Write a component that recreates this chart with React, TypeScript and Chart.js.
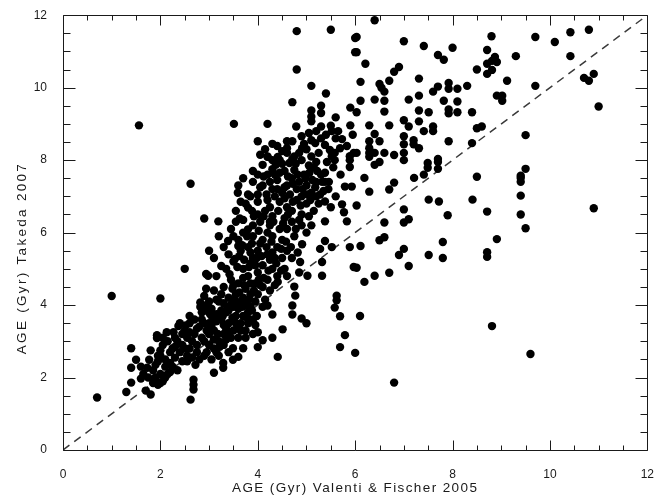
import React, { useEffect, useRef } from "react";
import { Chart, registerables } from "chart.js";

Chart.register(...registerables);

type P = [number, number];

const xTicks = [0, 2, 4, 6, 8, 10, 12];
const yTicks = [0, 2, 4, 6, 8, 10, 12];
const xTitle = "AGE (Gyr) Valenti & Fischer 2005";
const yTitle = "AGE (Gyr) Takeda 2007";
const identityLine: P[] = [[0, 0], [12, 12]];

const upperPoints: P[] = [
  [1.56, 8.96], [1.0, 4.25], [0.7, 1.45], [2.62, 7.35], [3.51, 9.0], [4.8, 11.56], [5.5, 11.6], [6.0, 11.37],
  [6.0, 10.98], [4.8, 10.5], [5.1, 10.05], [5.4, 9.84], [4.71, 9.6], [5.1, 9.37], [5.3, 9.5], [5.3, 9.3],
  [4.2, 9.0], [5.6, 9.18], [5.9, 9.45], [5.9, 8.96], [4.79, 8.93], [4.9, 8.66], [5.1, 9.2], [5.1, 9.07],
  [5.3, 8.93], [5.52, 8.8],
];

const rightUpper: P[] = [
  [6.4, 11.86], [6.03, 11.4], [6.03, 10.98], [7.0, 11.28], [7.41, 11.15], [8.0, 11.1], [7.7, 10.9], [7.82, 10.77],
  [8.8, 11.42], [8.71, 11.04], [8.87, 10.85], [8.81, 10.74], [8.91, 10.71], [8.71, 10.66], [8.5, 10.5], [8.71, 10.38],
  [8.81, 10.49], [6.21, 10.66], [6.9, 10.57], [6.8, 10.44], [6.7, 10.19], [7.31, 10.25], [6.11, 10.16], [6.5, 10.1],
  [6.54, 10.0], [6.6, 9.89], [7.7, 10.03], [7.6, 9.89], [7.92, 10.13], [7.92, 9.97], [8.1, 9.97], [8.3, 10.05],
  [7.31, 9.78], [7.1, 9.67], [7.82, 9.64], [8.1, 9.62], [6.11, 9.64], [6.4, 9.67], [6.6, 9.64], [6.03, 9.32],
  [6.6, 9.34], [7.31, 9.37], [7.51, 9.32], [7.92, 9.4], [7.92, 9.29], [8.1, 9.32], [8.4, 9.32], [9.02, 9.78],
  [9.02, 9.64], [8.91, 9.78], [7.0, 9.1], [7.1, 8.93], [7.31, 9.07], [7.41, 8.8], [7.6, 8.93], [7.6, 8.8],
  [6.7, 8.96], [6.29, 8.96], [6.4, 8.72], [6.29, 8.52], [6.5, 8.52], [6.29, 8.33], [6.29, 8.2], [6.4, 8.2],
  [6.29, 8.09], [6.03, 8.2], [6.6, 8.2], [6.8, 8.14], [7.0, 8.2], [7.0, 8.66], [7.0, 8.44], [7.2, 8.55],
  [7.2, 8.44], [7.31, 8.33], [7.92, 8.52], [8.5, 8.88], [8.6, 8.93], [8.4, 8.47], [7.7, 8.03],
  [10.8, 11.6], [10.42, 11.53], [9.7, 11.4], [10.1, 11.26], [9.3, 10.87], [10.42, 10.87], [9.12, 10.19], [9.7, 10.05],
  [10.7, 10.27], [10.8, 10.19], [10.9, 10.38], [11.0, 9.48], [9.5, 8.69],
];

const rightLower: P[] = [
  [2.9, 6.39], [2.5, 5.0], [2.94, 4.86], [2.94, 4.45], [2.0, 4.18], [2.82, 4.07],
  [6.4, 7.87], [6.5, 7.95], [7.0, 8.0], [7.49, 7.92], [7.49, 7.79], [7.7, 7.95], [7.7, 7.76], [6.19, 7.51],
  [6.8, 7.38], [6.7, 7.19], [7.21, 7.51], [7.41, 7.6], [6.29, 7.13], [6.03, 6.75], [7.51, 6.91], [7.72, 6.86],
  [8.5, 7.54], [8.41, 6.91], [8.71, 6.58], [7.0, 6.64], [6.6, 6.28], [7.0, 6.28], [7.1, 6.37], [7.9, 6.48],
  [6.11, 5.63], [6.5, 5.79], [6.6, 5.87], [6.9, 5.38], [7.0, 5.55], [7.51, 5.38], [7.8, 5.74], [7.8, 5.3],
  [8.91, 5.82], [8.71, 5.46], [8.71, 5.33], [6.03, 5.03], [6.4, 4.81], [6.19, 4.64], [6.7, 4.89], [7.1, 5.08],
  [9.5, 7.76], [9.4, 7.57], [9.4, 7.51], [9.4, 7.4], [9.4, 7.02], [9.4, 6.5], [9.5, 6.12], [10.9, 6.67],
  [4.71, 3.99], [4.71, 3.74], [4.9, 3.63], [5.0, 3.5], [4.3, 3.74], [4.2, 3.99], [4.51, 3.33], [4.3, 3.1],
  [4.0, 3.25], [4.1, 3.03], [4.0, 2.84], [4.41, 2.57], [3.7, 2.81], [3.6, 2.57], [3.49, 2.49], [3.49, 2.81],
  [3.29, 2.4], [3.29, 2.27], [3.1, 2.13], [5.58, 3.93], [5.69, 3.69], [5.79, 3.17], [5.69, 2.84], [6.0, 2.68],
  [6.1, 3.7], [6.8, 1.86], [8.81, 3.42], [9.6, 2.65],
];

const clusterLow: P[] = [
  [1.3, 1.6], [1.4, 1.86], [1.4, 2.27], [1.5, 2.49], [1.4, 2.81], [1.6, 1.97], [1.7, 1.64], [1.8, 1.53],
  [1.73, 2.27], [1.77, 2.49], [1.9, 2.35], [1.93, 3.17], [1.93, 3.09], [2.27, 3.25], [2.13, 3.25], [1.85, 1.85],
  [1.95, 1.8], [2.05, 1.9], [2.1, 2.0], [1.9, 2.0], [2.0, 2.1], [2.15, 2.1], [1.88, 1.95], [2.0, 1.85],
  [2.62, 1.39], [2.68, 1.94], [2.68, 1.8], [2.68, 1.67], [2.52, 3.44], [2.72, 2.35], [2.0, 2.6], [2.1, 2.5],
  [2.2, 2.4], [2.3, 2.55], [2.25, 2.8], [2.4, 2.7], [2.45, 2.9], [2.35, 3.0], [2.55, 2.6], [2.6, 2.8],
  [2.65, 3.0], [2.7, 3.2], [2.55, 3.1], [2.75, 2.7], [2.8, 3.4], [2.85, 3.6], [2.9, 3.0], [2.95, 3.3],
  [3.0, 2.9], [2.9, 2.6], [3.0, 3.5], [2.6, 3.7], [2.5, 3.3], [2.4, 3.5], [2.3, 3.1], [2.05, 2.9],
  [2.15, 3.0], [1.95, 2.6], [2.0, 2.75], [3.05, 2.5], [3.15, 2.7], [3.2, 3.0], [3.1, 3.3], [3.3, 3.2],
  [3.4, 3.5], [3.25, 3.6], [3.5, 3.3], [3.55, 3.7], [3.6, 3.9], [2.55, 2.45], [2.6, 3.5], [2.7, 3.6],
  [2.75, 2.9], [2.85, 3.1], [2.9, 3.5], [2.95, 2.7], [2.8, 2.5], [2.5, 2.8], [2.65, 2.55], [2.75, 3.35],
  [2.85, 3.8], [2.6, 3.25], [1.85, 2.2], [1.95, 2.45], [2.1, 2.3], [2.2, 2.7], [1.8, 2.75], [2.05, 3.1],
  [2.2, 2.15], [3.1, 2.8], [3.2, 2.6], [3.3, 2.9], [3.4, 2.7], [3.45, 3.1], [3.3, 3.45], [3.15, 3.55],
  [3.4, 3.85], [3.55, 3.5], [3.65, 3.3], [3.7, 3.7], [3.8, 3.5], [3.85, 3.95], [3.05, 3.7], [3.25, 3.85],
  [3.5, 3.95], [3.75, 3.1], [3.35, 3.05], [3.0, 3.2], [3.1, 3.05], [3.9, 3.6], [3.8, 3.8], [3.65, 3.5],
  [3.9, 3.2], [3.95, 3.45], [3.75, 3.3], [3.6, 3.1], [3.35, 3.35], [1.6, 2.3], [1.65, 2.1], [1.75, 2.0],
  [2.25, 2.3], [2.35, 2.2], [2.45, 2.45], [2.3, 2.85], [2.45, 3.2], [2.37, 3.42],
];

const clusterMid: P[] = [
  [3.45, 4.0], [3.35, 3.8], [3.15, 3.75], [3.05, 3.9], [3.2, 4.1], [3.4, 4.2], [3.55, 4.3], [3.7, 4.2],
  [3.75, 4.0], [3.85, 4.3], [3.95, 4.1], [3.6, 4.6], [3.45, 4.7], [3.3, 4.5], [3.1, 4.4], [3.0, 4.1],
  [2.9, 4.25], [3.15, 4.8], [3.35, 5.0], [3.5, 5.2], [3.7, 5.0], [3.8, 4.8], [3.9, 5.3], [3.65, 5.5],
  [3.4, 5.4], [3.95, 4.6], [3.75, 4.45], [3.55, 4.05], [3.25, 4.3], [3.6, 5.8], [3.8, 5.6], [3.9, 5.9],
  [4.0, 5.5], [4.1, 5.8], [4.2, 5.4], [4.1, 5.1], [4.0, 4.9], [4.2, 4.7], [4.3, 5.0], [4.35, 5.3],
  [4.4, 5.6], [4.3, 5.9], [4.5, 5.8], [4.45, 6.1], [4.25, 6.2], [4.05, 6.3], [3.9, 6.2], [3.7, 6.0],
  [3.5, 5.9], [3.55, 6.3], [3.19, 6.31], [3.63, 6.39], [3.39, 5.77], [3.8, 6.09], [4.6, 6.1], [4.7, 6.3],
  [4.75, 5.9], [4.6, 5.5], [4.5, 5.3], [4.55, 5.0], [4.4, 4.8], [4.41, 4.64], [4.25, 4.4], [4.1, 4.5],
  [4.0, 4.3], [4.15, 4.15], [3.95, 5.1], [4.3, 5.45], [4.91, 5.68], [4.87, 5.19], [4.75, 4.51], [4.77, 4.26],
  [5.02, 4.81], [5.32, 5.19], [5.32, 4.81], [5.62, 4.26], [5.62, 4.13], [5.38, 5.77], [5.28, 5.55], [5.52, 5.6],
  [5.89, 5.6], [5.97, 5.05], [5.0, 6.0], [5.1, 6.2], [5.38, 6.31], [5.83, 6.31], [3.6, 5.63], [3.25, 5.08],
  [2.98, 4.81], [3.53, 5.27], [3.1, 5.3], [3.3, 5.6], [3.0, 5.5], [3.2, 5.9], [3.45, 6.1], [3.7, 4.75],
  [3.85, 5.45], [4.05, 5.7], [4.2, 6.0], [4.6, 4.8], [4.7, 5.3], [4.9, 6.2], [4.85, 4.9],
];

const clusterCore: P[] = [
  [2.82, 3.95], [2.95, 4.0], [3.05, 3.45], [3.12, 3.6], [3.18, 3.2], [3.22, 2.85], [3.28, 3.7], [3.38, 3.95],
  [3.42, 3.25], [3.48, 3.65], [3.52, 4.15], [3.58, 3.35], [3.62, 4.35], [3.68, 3.95], [3.72, 4.55], [3.78, 3.65],
  [3.82, 4.15], [3.88, 3.85], [3.92, 4.4], [3.98, 3.7], [3.3, 4.05], [3.15, 4.15], [3.02, 3.75], [2.92, 3.85],
  [3.48, 4.45], [3.65, 4.1], [3.85, 4.6], [4.05, 4.55], [4.1, 3.95], [3.42, 4.85], [3.5, 4.55], [3.58, 5.05],
  [3.62, 5.35], [3.68, 5.65], [3.72, 5.25], [3.78, 5.9], [3.82, 5.05], [3.88, 5.7], [3.92, 6.45], [3.98, 5.3],
  [4.02, 6.05], [4.08, 5.35], [4.12, 6.45], [4.18, 5.6], [4.22, 4.95], [4.28, 5.75], [4.32, 6.3], [4.38, 5.15],
  [4.42, 6.6], [4.48, 5.55], [4.52, 6.25], [4.58, 5.75], [4.62, 6.5], [4.68, 5.6], [4.72, 6.85], [4.78, 6.1],
  [4.82, 5.45], [3.55, 6.6], [3.7, 6.35], [3.65, 6.85], [3.88, 6.6], [4.12, 4.75], [4.35, 4.55], [4.02, 4.7],
  [3.85, 5.15], [4.48, 4.95], [4.25, 5.25], [4.05, 7.25], [4.12, 7.55], [4.18, 7.05], [4.25, 7.4], [4.3, 7.75],
  [4.35, 7.6], [4.4, 7.2], [4.45, 7.65], [4.5, 7.9], [4.55, 7.25], [4.62, 7.55], [4.66, 7.05], [4.72, 7.35],
  [4.78, 7.9], [4.82, 7.6], [4.88, 6.75], [4.92, 7.2], [4.98, 7.5], [5.02, 7.05], [5.08, 6.9], [5.12, 7.45],
  [5.18, 7.25], [5.22, 7.7], [5.28, 7.05], [4.3, 8.0], [4.5, 8.25], [4.85, 8.2], [4.95, 8.45], [5.2, 7.95],
  [5.42, 7.95], [5.45, 7.2], [5.35, 7.15], [4.05, 8.15], [4.3, 8.45], [4.25, 6.3], [4.85, 6.35], [5.05, 6.45],
  [5.25, 6.8], [5.05, 8.75], [5.2, 8.8], [5.4, 8.7], [5.5, 8.95], [5.65, 8.8], [5.95, 8.7],
];

const clusterHigh: P[] = [
  [3.8, 6.69], [4.0, 6.5], [4.15, 6.6], [4.3, 6.45], [4.55, 6.4], [4.6, 6.7], [4.45, 6.85], [4.2, 6.9],
  [4.0, 6.85], [3.85, 7.0], [4.9, 6.5], [5.0, 6.8], [5.15, 6.6], [5.2, 7.0], [5.38, 6.86], [5.73, 6.78],
  [5.77, 6.56], [3.59, 7.1], [3.8, 7.05], [4.0, 7.05], [4.1, 7.87], [4.37, 7.87], [4.65, 7.92], [4.75, 7.73],
  [5.06, 7.65], [5.58, 8.0], [5.89, 8.0], [3.6, 7.3], [3.7, 7.5], [3.9, 7.4], [4.1, 7.3], [4.2, 7.6],
  [4.3, 7.2], [4.4, 7.45], [4.5, 7.1], [4.6, 7.3], [4.7, 7.5], [4.8, 7.2], [4.9, 7.0], [4.85, 7.4],
  [5.0, 7.3], [5.1, 7.1], [5.2, 7.4], [5.3, 7.6], [4.55, 7.7], [4.45, 8.0], [4.6, 8.2], [4.75, 8.1],
  [4.9, 8.0], [5.0, 8.3], [5.1, 8.1], [5.25, 8.2], [5.6, 8.6], [5.3, 8.6], [4.0, 8.52], [4.6, 8.52],
  [5.89, 7.81], [5.38, 7.65], [5.38, 7.4], [5.32, 7.4], [5.46, 7.4], [5.79, 7.27], [5.93, 7.27], [4.8, 6.9],
  [4.7, 6.6], [4.35, 7.0], [3.9, 7.7], [4.2, 8.1], [4.15, 8.3], [4.4, 8.39], [4.6, 8.33], [4.71, 8.52],
  [4.91, 8.33], [4.2, 8.09], [4.41, 8.09], [4.71, 8.03], [5.1, 8.55], [5.18, 8.47], [5.38, 8.42], [5.48, 8.28],
  [5.58, 8.2], [5.69, 8.33], [5.73, 8.58], [5.83, 8.39], [5.97, 8.2], [5.52, 8.11], [5.89, 8.11], [5.6, 7.0],
  [5.5, 6.7], [5.7, 7.6], [5.55, 7.8], [4.0, 7.6], [3.75, 6.8], [4.25, 6.7], [4.55, 6.95], [5.05, 7.85],
  [4.95, 7.6], [5.15, 7.8],
];

const FONT = "'Liberation Sans', Arial, Helvetica, sans-serif";
const INK = "#1a1a1a";

const frameTicks = {
  id: "frameTicks",
  afterDatasetsDraw(chart: any) {
    const { ctx, chartArea: a, scales } = chart;
    const xs = scales.x;
    const ys = scales.y;
    ctx.save();
    ctx.strokeStyle = INK;
    ctx.lineWidth = 1;
    ctx.beginPath();
    const L = Math.round(a.left) + 0.5;
    const R = Math.round(a.right) + 0.5;
    const T = Math.round(a.top) + 0.5;
    const B = Math.round(a.bottom) + 0.5;
    ctx.rect(L, T, R - L, B - T);
    for (let i = 0; i <= 24; i++) {
      const v = i * 0.5;
      const major = i % 4 === 0;
      const px = Math.round(xs.getPixelForValue(v)) + 0.5;
      const lx = major ? 10 : 5;
      ctx.moveTo(px, B);
      ctx.lineTo(px, B - lx);
      ctx.moveTo(px, T);
      ctx.lineTo(px, T + lx);
      const py = Math.round(ys.getPixelForValue(v)) + 0.5;
      const ly = major ? 12 : 7;
      ctx.moveTo(L, py);
      ctx.lineTo(L + ly, py);
      ctx.moveTo(R, py);
      ctx.lineTo(R - ly, py);
    }
    ctx.stroke();

    ctx.fillStyle = INK;
    ctx.font = `13.5px ${FONT}`;
    ctx.textAlign = "center";
    ctx.textBaseline = "middle";
    try { (ctx as any).letterSpacing = "1.4px"; } catch (e) {}
    ctx.fillText(xTitle, (a.left + a.right) / 2, 488);
    try { (ctx as any).letterSpacing = "2.3px"; } catch (e) {}
    ctx.translate(22, 258);
    ctx.rotate(-Math.PI / 2);
    ctx.fillText(yTitle, 0, 0);
    ctx.restore();
  },
};

const toXY = (arr: P[]) => arr.map(([x, y]) => ({ x, y }));

export default function App() {
  const ref = useRef<HTMLCanvasElement | null>(null);
  useEffect(() => {
    if (!ref.current) return;
    const allPoints = [
      ...upperPoints, ...rightUpper, ...rightLower, ...clusterLow, ...clusterMid, ...clusterCore, ...clusterHigh,
    ];
    const chart = new Chart(ref.current, {
      type: "scatter",
      data: {
        datasets: [
          {
            type: "line",
            data: toXY(identityLine),
            borderColor: "#3a3a3a",
            borderWidth: 1.5,
            borderDash: [8, 6],
            pointRadius: 0,
            fill: false,
            order: 2,
          } as any,
          {
            data: toXY(allPoints),
            backgroundColor: "#000",
            borderWidth: 0,
            pointRadius: 4.2,
            order: 1,
          },
        ],
      },
      options: {
        animation: false,
        responsive: false,
        maintainAspectRatio: false,
        layout: { padding: { top: 11, right: 9, left: 0, bottom: 0 } },
        plugins: { legend: { display: false }, tooltip: { enabled: false } },
        scales: {
          x: {
            type: "linear",
            min: 0,
            max: 12,
            afterBuildTicks: (s: any) => { s.ticks = xTicks.map((v) => ({ value: v })); },
            afterFit: (s: any) => { s.height = 49; },
            grid: { display: false },
            border: { display: false },
            ticks: { color: INK, font: { family: FONT, size: 12 }, padding: 9, maxRotation: 0 },
          },
          y: {
            type: "linear",
            min: 0,
            max: 12,
            afterBuildTicks: (s: any) => { s.ticks = yTicks.map((v) => ({ value: v })); },
            afterFit: (s: any) => { s.width = 63; },
            grid: { display: false },
            border: { display: false },
            ticks: { color: INK, font: { family: FONT, size: 12 }, padding: 8 },
          },
        },
      },
      plugins: [frameTicks],
    });
    return () => chart.destroy();
  }, []);
  return (
    <div style={{ position: "absolute", left: 0, top: 0, width: 663, height: 499, background: "#fff" }}>
      <canvas ref={ref} width={663} height={499} />
    </div>
  );
}
